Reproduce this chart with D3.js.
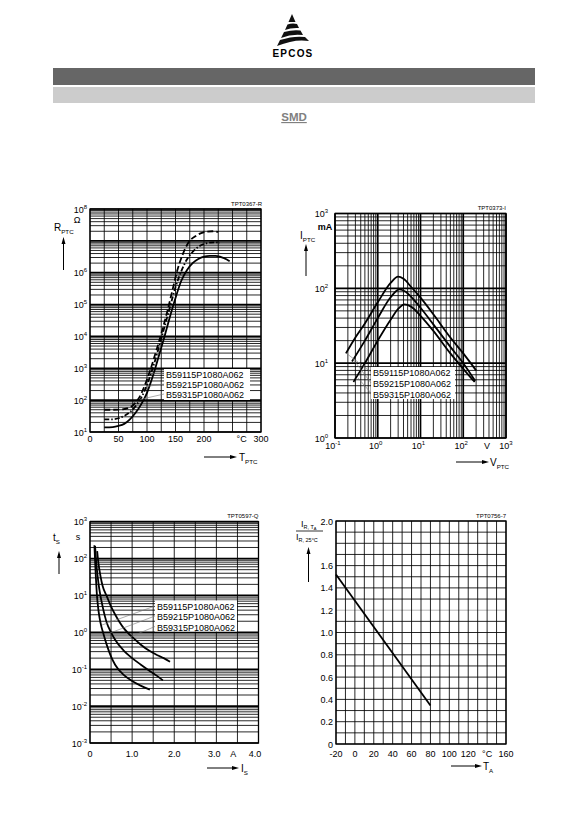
<!DOCTYPE html>
<html><head><meta charset="utf-8">
<script src="https://cdn.jsdelivr.net/npm/d3@7"></script>
<style>
body{margin:0;background:#fff}
svg{display:block}
text{font-family:"Liberation Sans",Arial,Helvetica,sans-serif;fill:#000}
</style>
</head><body>
<svg id="page" width="583" height="826"></svg>
<script>
// ---------------- DATA ----------------
const legendLabels = ["B59115P1080A062", "B59215P1080A062", "B59315P1080A062"];

// Chart 1: R_PTC (Ohm) vs T_PTC (°C)
const rtXTicks = [0, 50, 100, 150, 200, 266, 300];
const rtXTickLabels = ["0", "50", "100", "150", "200", "°C", "300"];
const rtYExponents = [1, 2, 3, 4, 5, 6, 8];
const rtSolid = [[25,14],[40,14.3],[50,15.5],[60,18],[70,25],[80,40],[90,75],[100,170],[110,550],[120,2200],[130,9000],[140,40000],[150,160000],[160,550000],[170,1.2e6],[180,2e6],[190,2.7e6],[200,3.2e6],[210,3.4e6],[220,3.4e6],[230,3.1e6],[240,2.6e6],[245,2.3e6]];
const rtDash = [[25,25],[40,25],[50,27],[60,32],[70,42],[80,65],[90,120],[100,300],[110,1000],[120,4000],[130,18000],[140,80000],[150,350000],[160,1.1e6],[170,2.6e6],[180,4.5e6],[190,6.5e6],[200,8e6],[210,8.8e6],[220,9e6],[228,8.7e6]];
const rtDashDot = [[25,50],[40,50],[55,51],[65,55],[75,68],[85,110],[95,260],[105,800],[115,3000],[125,12000],[135,55000],[145,300000],[152,1e6],[162,3.5e6],[173,9e6],[185,1.4e7],[195,1.75e7],[205,1.95e7],[215,2e7],[225,1.9e7]];

// Chart 2: I_PTC (mA) vs V_PTC (V)
const ivXExponents = [-1, 0, 1, 2, 3];
const ivYExponents = [0, 1, 2, 3];
const ivTop = [[0.18,13.5],[0.3,22],[0.5,34],[1,65],[2,118],[3,143],[4,134],[6,105],[10,75],[20,45],[50,22],[100,13.5],[200,8]];
const ivMid = [[0.25,10.5],[0.5,20],[1,40],[2,76],[3.2,97],[4.5,90],[7,70],[10,55],[20,33],[50,16.5],[100,10],[190,5.8]];
const ivLow = [[0.27,5.6],[0.5,10],[1,20],[2,38],[3,53],[4.2,61],[6,57],[10,43],[20,27],[50,13.5],[100,8.4],[185,5.6]];

// Chart 3: t_s (s) vs I_s (A)
const tsXTicks = [0, 1, 2, 2.95, 3.4, 3.92];
const tsXTickLabels = ["0", "1.0", "2.0", "3.0", "A", "4.0"];
const tsYExponents = [-3, -2, -1, 0, 1, 2, 3];
const tsA = [[0.17,160],[0.2,75],[0.25,33],[0.3,18],[0.4,9.5],[0.5,5],[0.6,3],[0.7,1.9],[0.8,1.3],[0.9,0.97],[1.0,0.75],[1.2,0.47],[1.4,0.32],[1.6,0.24],[1.75,0.2],[1.9,0.16]];
const tsB = [[0.12,220],[0.15,75],[0.2,22],[0.24,11],[0.3,5],[0.4,1.8],[0.5,1.0],[0.6,0.62],[0.8,0.32],[1.0,0.2],[1.2,0.135],[1.4,0.093],[1.6,0.065],[1.73,0.05]];
const tsC = [[0.105,230],[0.12,90],[0.14,30],[0.16,12],[0.2,4],[0.25,1.8],[0.32,0.9],[0.4,0.45],[0.5,0.22],[0.6,0.13],[0.8,0.07],[1.0,0.048],[1.2,0.036],[1.42,0.028]];

// Chart 4: I_R,TA / I_R,25°C vs T_A
const irXTicks = [-20, 0, 20, 40, 60, 80, 100, 120, 140, 160];
const irXTickLabels = ["-20", "0", "20", "40", "60", "80", "100", "120", "°C", "160"];
const irYTicks = [0, 0.2, 0.4, 0.6, 0.8, 1.0, 1.2, 1.4, 1.6, 2.0];
const irYTickLabels = ["0", "0.2", "0.4", "0.6", "0.8", "1.0", "1.2", "1.4", "1.6", "2.0"];
const irLine = [[-20,1.52],[80,0.345]];

// ---------------- HELPERS ----------------
const svg = d3.select("#page");
const FS = 9;

function logValues(lo, hi) {
  const v = [];
  for (let e = lo; e < hi; e++) for (let m = 1; m < 10; m++) v.push({v: m * Math.pow(10, e), major: m === 1});
  v.push({v: Math.pow(10, hi), major: true});
  return v;
}
function powLabel(g, x, y, exp, anchor) {
  const t = g.append("text").attr("x", x).attr("y", y).attr("text-anchor", anchor).attr("font-size", FS);
  t.append("tspan").text("10");
  t.append("tspan").attr("font-size", 6).attr("dy", -4).text(exp);
  return t;
}
function subText(g, x, y, main, sub, size, anchor) {
  const t = g.append("text").attr("x", x).attr("y", y).attr("font-size", size || 10).attr("text-anchor", anchor || "start");
  t.append("tspan").text(main);
  t.append("tspan").attr("font-size", (size || 10) * 0.62).attr("dy", 2.5).text(sub);
  return t;
}
function arrowUp(g, x, y1, y2) {
  g.append("line").attr("x1", x).attr("x2", x).attr("y1", y1).attr("y2", y2 + 5).attr("stroke", "#000").attr("stroke-width", 1);
  g.append("path").attr("d", `M${x},${y2} L${x-2},${y2+7} L${x+2},${y2+7} Z`).attr("fill", "#000");
}
function arrowRight(g, x1, x2, y) {
  g.append("line").attr("x1", x1).attr("x2", x2 - 5).attr("y1", y).attr("y2", y).attr("stroke", "#000").attr("stroke-width", 1);
  g.append("path").attr("d", `M${x2},${y} L${x2-7},${y-2} L${x2-7},${y+2} Z`).attr("fill", "#000");
}
function hGrid(g, x, y, vals, strokeFn) {
  g.selectAll(null).data(vals).enter().append("line")
    .attr("x1", x.range()[0]).attr("x2", x.range()[1])
    .attr("y1", d => y(d.v)).attr("y2", d => y(d.v))
    .attr("stroke", d => (strokeFn ? strokeFn(d) : "#000"))
    .attr("stroke-width", d => d.major ? 1.7 : 0.85);
}
function vGrid(g, x, y, vals) {
  g.selectAll(null).data(vals).enter().append("line")
    .attr("y1", y.range()[0]).attr("y2", y.range()[1])
    .attr("x1", d => x(d.v)).attr("x2", d => x(d.v))
    .attr("stroke", "#000").attr("stroke-width", d => d.major ? 1.7 : 0.85);
}
function frame(g, x, y) {
  const [x0, x1] = x.range(), [y0, y1] = y.range();
  g.append("rect").attr("x", x0).attr("y", y1).attr("width", x1 - x0).attr("height", y0 - y1)
    .attr("fill", "none").attr("stroke", "#000").attr("stroke-width", 1.3);
}
function curve(g, x, y, data, dash) {
  const line = d3.line().x(d => x(d[0])).y(d => y(d[1])).curve(d3.curveMonotoneX);
  g.append("path").attr("d", line(data)).attr("fill", "none").attr("stroke", "#000")
    .attr("stroke-width", 1.8).attr("stroke-dasharray", dash || null);
}
function legend(g, bx, by, bw, bh, baselines, leaders) {
  g.append("rect").attr("x", bx).attr("y", by).attr("width", bw).attr("height", bh).attr("fill", "#fff");
  leaders.forEach(l => g.append("line").attr("x1", l[0]).attr("y1", l[1]).attr("x2", l[2]).attr("y2", l[3])
    .attr("stroke", "#777").attr("stroke-width", 0.6));
  legendLabels.forEach((s, i) => g.append("text").attr("x", bx + 2).attr("y", baselines[i]).attr("font-size", FS).text(s));
}
function code(g, x, y, s) {
  g.append("text").attr("x", x).attr("y", y).attr("text-anchor", "end").attr("font-size", 6).text(s);
}

// ---------------- HEADER ----------------
const hd = svg.append("g");
hd.append("path").attr("d", "M292,14 L295.5,22 L288.5,22 Z").attr("fill", "#111");
hd.append("path").attr("d", "M287.5,24.5 Q292,23 297,24 L299,28 Q291,27.5 285,30 Z").attr("fill", "#111");
hd.append("path").attr("d", "M284,32 Q293,29.5 300.5,30.5 L303,35 Q292,33.5 281,38 Z").attr("fill", "#111");
hd.append("path").attr("d", "M280,40 Q294,35.5 305,37 L309,41 Q295,38.5 277,46 Z").attr("fill", "#111");
hd.append("text").attr("x", 293).attr("y", 57).attr("text-anchor", "middle").attr("font-size", 10)
  .attr("font-weight", "bold").attr("letter-spacing", 1.2).text("EPCOS");
hd.append("rect").attr("x", 53).attr("y", 68).attr("width", 482).attr("height", 17).attr("fill", "#666");
hd.append("rect").attr("x", 53).attr("y", 87).attr("width", 482).attr("height", 16).attr("fill", "#ccc");
hd.append("text").attr("x", 294).attr("y", 121).attr("text-anchor", "middle").attr("font-size", 11.5)
  .attr("font-weight", "bold").style("fill", "#808080").attr("text-decoration", "underline").text("SMD");

// ---------------- CHART 1 ----------------
{
  const g = svg.append("g");
  const x = d3.scaleLinear().domain([0, 300]).range([90, 261]);
  const y = d3.scaleLog().domain([10, 1e8]).range([432, 209]);
  hGrid(g, x, y, logValues(1, 8));
  vGrid(g, x, y, d3.range(0, 301, 25).map(v => ({v, major: false})));
  frame(g, x, y);
  curve(g, x, y, rtSolid);
  curve(g, x, y, rtDash, "5,2,1.5,2");
  curve(g, x, y, rtDashDot, "6,3");
  legend(g, 164, 369, 86, 31, [377.5, 387.5, 397.5],
    [[164, 374, 152, 373], [164, 384, 146, 386.5], [164, 394, 140, 399.5]]);
  rtYExponents.forEach(e => powLabel(g, 87, y(Math.pow(10, e)) + 3.5, e, "end"));
  rtXTicks.forEach((t, i) => g.append("text").attr("x", x(t)).attr("y", 442).attr("text-anchor", "middle")
    .attr("font-size", FS).text(rtXTickLabels[i]));
  code(g, 262, 206, "TPT0367-R");
  g.append("text").attr("x", 77).attr("y", 223).attr("text-anchor", "middle").attr("font-size", 9).text("Ω");
  subText(g, 54, 231, "R", "PTC", 10);
  arrowUp(g, 63.5, 270, 237);
  arrowRight(g, 204, 237, 457);
  subText(g, 239, 461, "T", "PTC", 10);
}

// ---------------- CHART 2 ----------------
{
  const g = svg.append("g");
  const x = d3.scaleLog().domain([0.1, 1000]).range([335, 506]);
  const y = d3.scaleLog().domain([1, 1000]).range([438, 213.5]);
  hGrid(g, x, y, logValues(0, 3));
  vGrid(g, x, y, logValues(-1, 3));
  frame(g, x, y);
  curve(g, x, y, ivTop);
  curve(g, x, y, ivMid);
  curve(g, x, y, ivLow);
  legend(g, 371, 367, 84, 32, [375.5, 386.5, 397.5],
    [[371, 372, 346, 353], [371, 383, 353, 359], [371, 393, 358, 378]]);
  ivYExponents.forEach(e => powLabel(g, 328, y(Math.pow(10, e)) + 3.5, e, "end"));
  ivXExponents.forEach(e => {
    if (e === 3) powLabel(g, 506, 449, e, "middle");
    else powLabel(g, x(Math.pow(10, e)) - 2, 449, e, "middle");
  });
  g.append("text").attr("x", 487).attr("y", 449).attr("text-anchor", "middle").attr("font-size", FS).text("V");
  code(g, 506, 210, "TPT0373-I");
  g.append("text").attr("x", 325).attr("y", 230).attr("text-anchor", "middle").attr("font-size", 9)
    .attr("font-weight", "bold").text("mA");
  subText(g, 300, 239, "I", "PTC", 10);
  arrowUp(g, 306, 276, 244);
  arrowRight(g, 456, 489, 462);
  subText(g, 490, 466, "V", "PTC", 10);
}

// ---------------- CHART 3 ----------------
{
  const g = svg.append("g");
  const x = d3.scaleLinear().domain([0, 4]).range([90, 258.5]);
  const y = d3.scaleLog().domain([1e-3, 1e3]).range([743, 521.7]);
  hGrid(g, x, y, logValues(-3, 3));
  vGrid(g, x, y, d3.range(0, 4.01, 0.5).map(v => ({v, major: false})));
  frame(g, x, y);
  curve(g, x, y, tsA);
  curve(g, x, y, tsB);
  curve(g, x, y, tsC);
  legend(g, 155, 600.5, 82, 31, [609.5, 620, 630.5],
    [[155, 606, 102, 625], [155, 616, 110, 633], [155, 626.5, 130, 637]]);
  tsYExponents.forEach(e => powLabel(g, 87, y(Math.pow(10, e)) + 3.5, e, "end"));
  tsXTicks.forEach((t, i) => g.append("text").attr("x", x(t)).attr("y", 757).attr("text-anchor", "middle")
    .attr("font-size", FS).text(tsXTickLabels[i]));
  code(g, 258.5, 518, "TPT0597-Q");
  subText(g, 53, 541, "t", "S", 10);
  g.append("text").attr("x", 78).attr("y", 540).attr("text-anchor", "middle").attr("font-size", 9).text("s");
  arrowUp(g, 59, 574, 551);
  arrowRight(g, 207, 239, 768);
  subText(g, 241, 772, "I", "S", 10);
}

// ---------------- CHART 4 ----------------
{
  const g = svg.append("g");
  const x = d3.scaleLinear().domain([-20, 160]).range([336, 506]);
  const y = d3.scaleLinear().domain([0, 2]).range([744, 521]);
  const yv = d3.range(0, 21).map(i => ({v: i / 10, major: false, gray: i === 12}));
  hGrid(g, x, y, yv, d => d.gray ? "#aaa" : "#000");
  vGrid(g, x, y, d3.range(-20, 161, 10).map(v => ({v, major: false})));
  frame(g, x, y);
  curve(g, x, y, irLine);
  irYTicks.forEach((t, i) => g.append("text").attr("x", 333).attr("y", y(t) + 3.5).attr("text-anchor", "end")
    .attr("font-size", FS).text(irYTickLabels[i]));
  irXTicks.forEach((t, i) => g.append("text").attr("x", x(t)).attr("y", 757).attr("text-anchor", "middle")
    .attr("font-size", FS).text(irXTickLabels[i]));
  code(g, 506, 518, "TPT0756-7");
  const t1 = g.append("text").attr("x", 301).attr("y", 527).attr("font-size", 9);
  t1.append("tspan").text("I");
  t1.append("tspan").attr("font-size", 5.5).attr("dy", 2).text("R, T");
  t1.append("tspan").attr("font-size", 4).attr("dy", 1).text("A");
  g.append("line").attr("x1", 296).attr("x2", 323).attr("y1", 531).attr("y2", 531).attr("stroke", "#000").attr("stroke-width", 0.8);
  const t2 = g.append("text").attr("x", 296).attr("y", 540).attr("font-size", 9);
  t2.append("tspan").text("I");
  t2.append("tspan").attr("font-size", 5.5).attr("dy", 2).text("R, 25°C");
  arrowUp(g, 308.5, 582, 547);
  arrowRight(g, 451, 482, 766);
  subText(g, 483, 770, "T", "A", 10);
}
</script>
</body></html>
